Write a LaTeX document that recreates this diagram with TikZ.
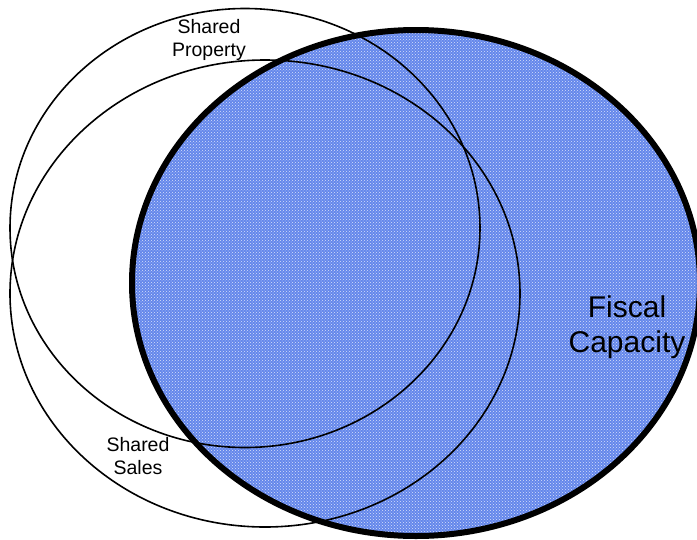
\documentclass[tikz,border=0pt]{standalone}
\usepackage{fontspec}
\setmainfont{Liberation Sans}
\usepackage{xcolor}
\usetikzlibrary{positioning,patterns}
\definecolor{capblue}{RGB}{100,135,235}
\tikzset{setline/.style={line width=1.6pt,black},
  lbl/.style={align=center,inner sep=0pt,font=\fontsize{19.5}{22.5}\selectfont}}

\begin{document}
\begin{tikzpicture}[x=1pt,y=-1pt]
\useasboundingbox (0,0) rectangle (697,539);
\begin{scope}
\clip (0,0) rectangle (697,539);
\fill[capblue] (416,283) ellipse [x radius=284,y radius=253];
\fill[pattern=crosshatch dots,pattern color=white!75!capblue] (416,283) ellipse [x radius=284,y radius=253];
\draw[setline] (245,228) ellipse [x radius=235,y radius=219.5];
\draw[setline] (265,293.5) ellipse [x radius=255,y radius=233.5];
\draw[line width=6pt] (416,283) ellipse [x radius=284,y radius=253];
\end{scope}
\node[lbl,anchor=base] (prop) at (209,56) {Shared\\Property};
\node[lbl,anchor=base] (sales) at (138,474) {Shared\\Sales};
\node[lbl,anchor=base,font=\fontsize{30}{35}\selectfont] (fiscal) at (627,352) {Fiscal\\Capacity};
\end{tikzpicture}
\end{document}
